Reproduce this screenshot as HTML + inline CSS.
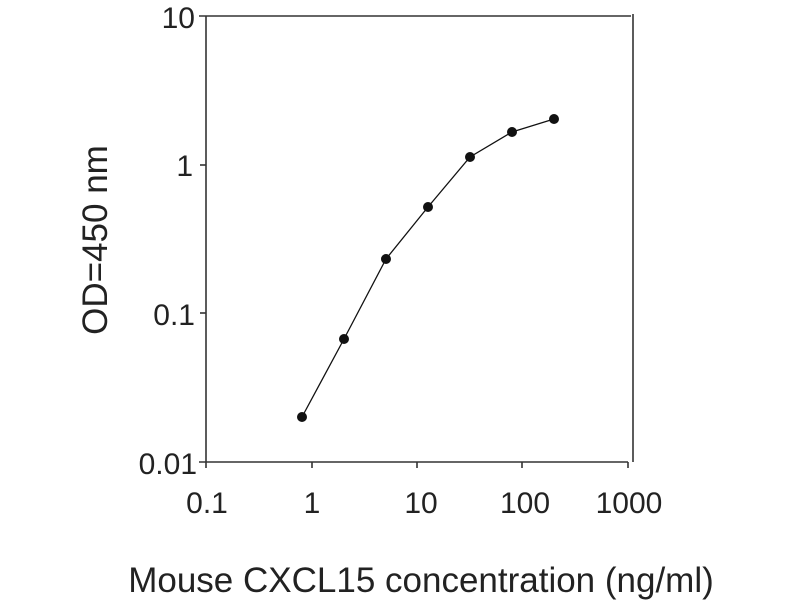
<!DOCTYPE html>
<html><head><style>body{margin:0;background:#fff}</style></head><body>
<svg width="800" height="600" xmlns="http://www.w3.org/2000/svg" font-family="Liberation Sans, sans-serif" fill="#222">
<rect width="800" height="600" fill="#fff"/>
<g stroke="#333" stroke-width="1.6" fill="none">
<line x1="199" y1="16" x2="631" y2="16"/>
<line x1="633" y1="14" x2="633" y2="462"/>
<line x1="206" y1="16" x2="206" y2="468"/>
<line x1="199" y1="462" x2="628" y2="462"/>
<line x1="200" y1="165" x2="206" y2="165"/>
<line x1="200" y1="313" x2="206" y2="313"/>
<line x1="312" y1="462" x2="312" y2="468"/>
<line x1="417" y1="462" x2="417" y2="468"/>
<line x1="522" y1="462" x2="522" y2="468"/>
<line x1="628" y1="462" x2="628" y2="468"/>
<polyline stroke="#111" stroke-width="1.3" points="302,417 344,339 386,259 428,207 470,157 512,132 554,119"/>
</g>
<g fill="#111">
<circle cx="302" cy="417" r="5"/><circle cx="344" cy="339" r="5"/><circle cx="386" cy="259" r="5"/><circle cx="428" cy="207" r="5"/><circle cx="470" cy="157" r="5"/><circle cx="512" cy="132" r="5"/><circle cx="554" cy="119" r="5"/>
</g>
<g font-size="30" text-anchor="end">
<text x="195" y="28">10</text><text x="193" y="176">1</text><text x="195" y="325">0.1</text><text x="197" y="474">0.01</text>
</g>
<g font-size="30" text-anchor="middle">
<text x="207" y="513">0.1</text><text x="312" y="513">1</text><text x="421" y="513">10</text><text x="525" y="513">100</text><text x="629" y="513">1000</text>
<text x="421" y="592" font-size="35">Mouse CXCL15 concentration (ng/ml)</text>
<text transform="translate(107,240) rotate(-90)" font-size="35">OD=450 nm</text>
</g>
</svg>
</body></html>
